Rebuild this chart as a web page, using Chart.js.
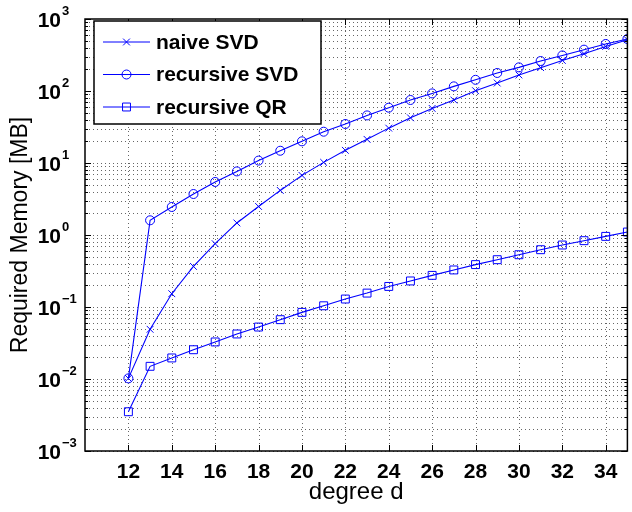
<!DOCTYPE html>
<html>
<head>
<meta charset="utf-8">
<script src="https://cdn.jsdelivr.net/npm/chart.js@4.4.1/dist/chart.umd.min.js"></script>
<style>
  html, body { margin: 0; padding: 0; background: #fff; overflow: hidden; }
  canvas { display: block; }
</style>
</head>
<body>
<canvas id="memChart" width="634" height="512"></canvas>
<script>
const degrees = [12, 13, 14, 15, 16, 17, 18, 19, 20, 21, 22, 23, 24, 25, 26, 27, 28, 29, 30, 31, 32, 33, 34, 35];
const naiveSVD = [0.0102, 0.049, 0.153, 0.366, 0.757, 1.47, 2.49, 4.16, 6.73, 10.2, 15.0, 21.3,
  30.5, 42.4, 57.3, 75, 101, 129, 167, 211, 266, 330, 416, 515];
const recursiveSVD = [0.0102, 1.60, 2.45, 3.71, 5.45, 7.64, 10.8, 14.8, 20.0, 27.2, 34.8, 45.8,
  58.6, 75, 92.6, 116, 143, 178, 213, 261, 312, 375, 450, 527];
const recursiveQR = [0.00351, 0.0150, 0.0196, 0.0255, 0.0327, 0.0422, 0.0527, 0.0667, 0.0842, 0.104, 0.129, 0.156,
  0.193, 0.230, 0.275, 0.327, 0.388, 0.454, 0.532, 0.625, 0.726, 0.834, 0.957, 1.10];
const seriesNames = ['naive SVD', 'recursive SVD', 'recursive QR'];
const xTicks = [12, 14, 16, 18, 20, 22, 24, 26, 28, 30, 32, 34];
const yExponents = [-3, -2, -1, 0, 1, 2, 3];

const blue = '#0000ff';
const fontFamily = '"Liberation Sans", Arial, Helvetica, sans-serif';
const toPoints = values => values.map((v, i) => ({ x: degrees[i], y: v }));

const markerStyles = [
  { pointStyle: 'crossRot', radius: 4.8 },
  { pointStyle: 'circle', radius: 4.5 },
  { pointStyle: 'rect', radius: 5.6 }
];
const legendRows = [42, 74.5, 107];

// matlab-ish box, dotted grid, inward ticks, 10^n labels and boxed legend
const matlabAxes = {
  id: 'matlabAxes',
  beforeDatasetsDraw(chart) {
    const { ctx, chartArea: a, scales: { x, y } } = chart;
    ctx.save();
    ctx.strokeStyle = 'rgba(0,0,0,0.6)';
    ctx.lineWidth = 1;
    ctx.setLineDash([1, 3]);
    for (let e = yExponents[0]; e < yExponents[yExponents.length - 1]; e++) {
      for (let m = 1; m <= 9; m++) {
        const py = Math.round(y.getPixelForValue(m * Math.pow(10, e))) + 0.5;
        ctx.beginPath();
        ctx.moveTo(a.left, py);
        ctx.lineTo(a.right, py);
        ctx.stroke();
      }
    }
    xTicks.forEach(t => {
      const px = Math.round(x.getPixelForValue(t)) + 0.5;
      ctx.beginPath();
      ctx.moveTo(px, a.top);
      ctx.lineTo(px, a.bottom);
      ctx.stroke();
    });
    ctx.restore();
  },
  afterDatasetsDraw(chart) {
    const { ctx, chartArea: a, scales: { x, y } } = chart;
    ctx.save();
    ctx.strokeStyle = '#000';
    ctx.fillStyle = '#000';

    // ticks
    ctx.lineWidth = 1;
    for (let e = yExponents[0]; e <= yExponents[yExponents.length - 1]; e++) {
      for (let m = 1; m <= 9; m++) {
        const v = m * Math.pow(10, e);
        if (v > Math.pow(10, yExponents[yExponents.length - 1])) break;
        const py = Math.round(y.getPixelForValue(v)) + 0.5;
        const len = m === 1 ? 6 : 3;
        ctx.beginPath();
        ctx.moveTo(a.left, py); ctx.lineTo(a.left + len, py);
        ctx.moveTo(a.right, py); ctx.lineTo(a.right - len, py);
        ctx.stroke();
      }
    }
    xTicks.forEach(t => {
      const px = Math.round(x.getPixelForValue(t)) + 0.5;
      ctx.beginPath();
      ctx.moveTo(px, a.bottom); ctx.lineTo(px, a.bottom - 6);
      ctx.moveTo(px, a.top); ctx.lineTo(px, a.top + 6);
      ctx.stroke();
    });

    // frame
    ctx.lineWidth = 1.5;
    ctx.strokeRect(a.left, a.top, a.right - a.left, a.bottom - a.top);

    // x tick labels
    ctx.font = `bold 21px ${fontFamily}`;
    ctx.textAlign = 'center';
    ctx.textBaseline = 'alphabetic';
    xTicks.forEach(t => ctx.fillText(String(t), x.getPixelForValue(t), a.bottom + 27));

    // y tick labels 10^n
    yExponents.forEach(e => {
      const py = y.getPixelForValue(Math.pow(10, e));
      ctx.font = `bold 21px ${fontFamily}`;
      ctx.textAlign = 'right';
      ctx.fillText('10', 61, py + 8);
      ctx.font = `bold 13px ${fontFamily}`;
      ctx.textAlign = 'left';
      ctx.fillText(e < 0 ? '\u2212' + (-e) : String(e), 62, py - 4.5);
    });

    // axis titles
    ctx.font = `24px ${fontFamily}`;
    ctx.textAlign = 'center';
    ctx.fillText('degree d', (a.left + a.right) / 2, 499);
    ctx.font = `23px ${fontFamily}`;
    ctx.translate(27, (a.top + a.bottom) / 2);
    ctx.rotate(-Math.PI / 2);
    ctx.fillText('Required Memory [MB]', 0, 0);
    ctx.restore();

    // legend
    ctx.save();
    ctx.fillStyle = '#fff';
    ctx.fillRect(94, 21, 227, 103);
    ctx.strokeStyle = '#000';
    ctx.lineWidth = 1.5;
    ctx.strokeRect(94, 21, 227, 103);
    chart.data.datasets.forEach((ds, i) => {
      const ly = legendRows[i];
      ctx.strokeStyle = ds.borderColor;
      ctx.lineWidth = 1;
      ctx.beginPath();
      ctx.moveTo(103, ly);
      ctx.lineTo(150, ly);
      ctx.stroke();
      ctx.fillStyle = 'rgba(0,0,0,0)';
      Chart.helpers.drawPoint(ctx, {
        pointStyle: ds.pointStyle, radius: ds.pointRadius, borderWidth: 1, rotation: 0
      }, 126.5, ly);
      ctx.fillStyle = '#000';
      ctx.font = `bold 21px ${fontFamily}`;
      ctx.textAlign = 'left';
      ctx.textBaseline = 'middle';
      ctx.fillText(ds.label, 156, ly + 1);
    });
    ctx.restore();
  }
};

const seriesValues = [naiveSVD, recursiveSVD, recursiveQR];

new Chart(document.getElementById('memChart'), {
  type: 'line',
  data: {
    datasets: seriesValues.map((values, i) => ({
      label: seriesNames[i],
      data: toPoints(values),
      borderColor: blue,
      borderWidth: 1.1,
      tension: 0,
      fill: false,
      pointStyle: markerStyles[i].pointStyle,
      pointRadius: markerStyles[i].radius,
      pointBorderColor: blue,
      pointBackgroundColor: 'rgba(0,0,0,0)',
      pointBorderWidth: 1
    }))
  },
  options: {
    responsive: false,
    animation: false,
    devicePixelRatio: 1,
    layout: { padding: { left: 85, top: 19, right: 1, bottom: 61 } },
    plugins: { legend: { display: false }, tooltip: { enabled: false } },
    scales: {
      x: { type: 'linear', min: 10, max: 35, display: false },
      y: { type: 'logarithmic', min: 1e-3, max: 1e3, display: false }
    }
  },
  plugins: [matlabAxes]
});
</script>
</body>
</html>
